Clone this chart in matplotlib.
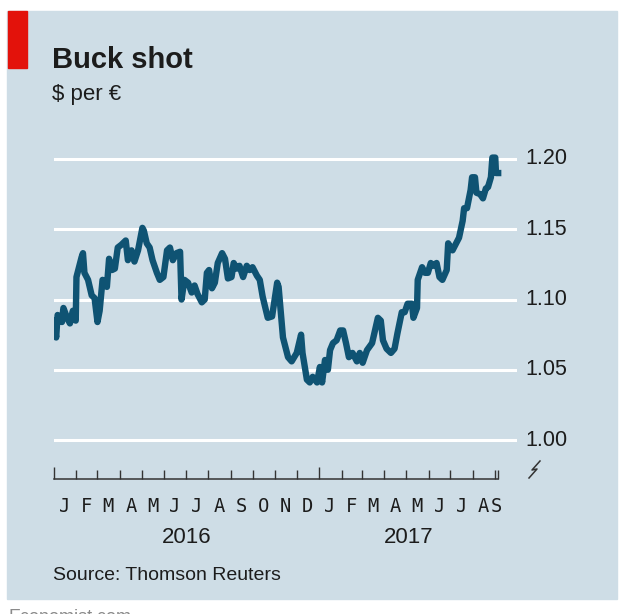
import numpy as np
import matplotlib
matplotlib.use("Agg")
import matplotlib.pyplot as plt
import matplotlib.dates as mdates
from matplotlib.transforms import blended_transform_factory
from matplotlib.patches import Rectangle
from matplotlib.lines import Line2D

plt.rcParams['font.family'] = ['Liberation Sans', 'DejaVu Sans']

# --- data: dollars per euro ---
dates = [
    '2016-01-01', '2016-01-04', '2016-01-06', '2016-01-12', '2016-01-14', '2016-01-19',
    '2016-01-23', '2016-01-27', '2016-01-31', '2016-02-01', '2016-02-08', '2016-02-10',
    '2016-02-12', '2016-02-17', '2016-02-22', '2016-02-26', '2016-03-01', '2016-03-04',
    '2016-03-08', '2016-03-14', '2016-03-17', '2016-03-21', '2016-03-25', '2016-03-29',
    '2016-04-03', '2016-04-09', '2016-04-12', '2016-04-17', '2016-04-21', '2016-04-26',
    '2016-05-02', '2016-05-04', '2016-05-08', '2016-05-12', '2016-05-16', '2016-05-22',
    '2016-05-26', '2016-05-31', '2016-06-05', '2016-06-09', '2016-06-13', '2016-06-18',
    '2016-06-23', '2016-06-25', '2016-06-29', '2016-07-04', '2016-07-09', '2016-07-13',
    '2016-07-17', '2016-07-23', '2016-07-27', '2016-07-30', '2016-08-02', '2016-08-06',
    '2016-08-10', '2016-08-14', '2016-08-20', '2016-08-24', '2016-08-28', '2016-09-02',
    '2016-09-05', '2016-09-09', '2016-09-13', '2016-09-18', '2016-09-23', '2016-09-27',
    '2016-10-01', '2016-10-07', '2016-10-11', '2016-10-15', '2016-10-22', '2016-10-28',
    '2016-11-04', '2016-11-06', '2016-11-12', '2016-11-19', '2016-11-24', '2016-12-01',
    '2016-12-07', '2016-12-09', '2016-12-15', '2016-12-19', '2016-12-23', '2016-12-29',
    '2017-01-02', '2017-01-05', '2017-01-09', '2017-01-13', '2017-01-16', '2017-01-20',
    '2017-01-25', '2017-01-30', '2017-02-03', '2017-02-07', '2017-02-11', '2017-02-16',
    '2017-02-22', '2017-02-26', '2017-03-02', '2017-03-08', '2017-03-15', '2017-03-19',
    '2017-03-23', '2017-03-27', '2017-03-30', '2017-04-04', '2017-04-10', '2017-04-15',
    '2017-04-19', '2017-04-25', '2017-04-29', '2017-05-03', '2017-05-09', '2017-05-11',
    '2017-05-16', '2017-05-17', '2017-05-23', '2017-05-27', '2017-05-31', '2017-06-04',
    '2017-06-07', '2017-06-12', '2017-06-16', '2017-06-20', '2017-06-26', '2017-06-28',
    '2017-07-04', '2017-07-09', '2017-07-13', '2017-07-18', '2017-07-20', '2017-07-24',
    '2017-07-29', '2017-07-31', '2017-08-04', '2017-08-06', '2017-08-11', '2017-08-15',
    '2017-08-19', '2017-08-22', '2017-08-26', '2017-08-28', '2017-09-01', '2017-09-02',
    '2017-09-05',
]
usd_per_eur = [
    1.085, 1.073, 1.089, 1.084, 1.094, 1.087,
    1.083, 1.092, 1.085, 1.116, 1.130, 1.133,
    1.119, 1.114, 1.103, 1.101, 1.084, 1.092,
    1.114, 1.109, 1.129, 1.121, 1.122, 1.137,
    1.139, 1.142, 1.128, 1.135, 1.127, 1.135,
    1.151, 1.149, 1.140, 1.137, 1.128, 1.119,
    1.114, 1.116, 1.135, 1.137, 1.128, 1.133,
    1.134, 1.100, 1.114, 1.112, 1.105, 1.110,
    1.104, 1.098, 1.100, 1.119, 1.121, 1.108,
    1.112, 1.126, 1.133, 1.129, 1.115, 1.116,
    1.126, 1.122, 1.124, 1.116, 1.124, 1.121,
    1.123, 1.117, 1.114, 1.102, 1.087, 1.088,
    1.112, 1.109, 1.073, 1.059, 1.056, 1.062,
    1.075, 1.062, 1.043, 1.041, 1.045, 1.041,
    1.052, 1.041, 1.057, 1.050, 1.064, 1.069,
    1.071, 1.078, 1.078, 1.069, 1.059, 1.062,
    1.056, 1.062, 1.055, 1.064, 1.069, 1.078,
    1.087, 1.085, 1.071, 1.065, 1.062, 1.065,
    1.076, 1.091, 1.091, 1.097, 1.097, 1.087,
    1.094, 1.114, 1.123, 1.119, 1.119, 1.126,
    1.124, 1.126, 1.116, 1.114, 1.121, 1.140,
    1.135, 1.140, 1.144, 1.156, 1.165, 1.165,
    1.178, 1.187, 1.187, 1.176, 1.175, 1.172,
    1.179, 1.180, 1.187, 1.201, 1.201, 1.190,
    1.190,
]
y_ticks = [1.00, 1.05, 1.10, 1.15, 1.20]
month_letters = list('JFMAMJJASOND') + list('JFMAMJJAS')
years = ['2016', '2017']

dates = np.array(dates, dtype='datetime64[D]')
usd_per_eur = np.array(usd_per_eur)

W, H = 632, 614
def fx(px):
    return px / W
def fy(py):
    return 1 - py / H

bg = '#cedde6'
line_col = '#0f5373'
ink = '#1c1c1c'

fig = plt.figure(figsize=(W / 100, H / 100), dpi=100)
fig.patch.set_facecolor('white')

# panel + red tag
fig.patches.append(Rectangle((fx(7), fy(599)), fx(617) - fx(7), fy(11) - fy(599),
                             transform=fig.transFigure, color=bg, zorder=-2))
fig.patches.append(Rectangle((fx(8), fy(68)), fx(27) - fx(8), fy(11) - fy(68),
                             transform=fig.transFigure, color='#e3120b', zorder=-1))

ax = fig.add_axes([fx(54), fy(479), fx(517) - fx(54), fy(150) - fy(479)])
ax.set_facecolor('none')
ax.set_zorder(5)

x0 = np.datetime64('2016-01-01')
x_end = np.datetime64('2017-10-01')
ax.set_xlim(x0, x_end)
ax.set_ylim(0.9723, 1.2064)

for v in y_ticks:
    ax.axhline(v, color='white', lw=2.2, zorder=1)

ax.plot(dates, usd_per_eur, color=line_col, lw=4.6, zorder=3, solid_joinstyle='round')

for s in ['top', 'left', 'right']:
    ax.spines[s].set_visible(False)
ax.spines['bottom'].set_color('#333333')
ax.spines['bottom'].set_linewidth(1.1)
ax.spines['bottom'].set_bounds(mdates.date2num(x0), mdates.date2num(dates[-1]))

month_starts = np.arange(np.datetime64('2016-01'), np.datetime64('2017-10'),
                         dtype='datetime64[M]').astype('datetime64[D]')
major = [d for d in month_starts if str(d)[5:7] != '01'] + [dates[-1]]
year_starts = [d for d in month_starts if str(d)[5:7] == '01']
ax.set_xticks([mdates.date2num(d) for d in major])
ax.set_xticks([mdates.date2num(d) for d in year_starts], minor=True)
ax.tick_params(axis='x', which='major', direction='in', length=6.5, width=1,
               color='#333333', labelbottom=False)
ax.tick_params(axis='x', which='minor', direction='in', length=8.6, width=1,
               color='#333333', labelbottom=False)
ax.set_yticks([])

tr_x = blended_transform_factory(ax.transData, fig.transFigure)
tr_y = blended_transform_factory(fig.transFigure, ax.transData)

# month letters under the ticks
for i, letter in enumerate(month_letters):
    a = month_starts[i]
    b = month_starts[i + 1] if i + 1 < len(month_starts) else dates[-1]
    b = min(b, dates[-1] + np.timedelta64(1, 'D'))
    mid = a + (b - a) / 2
    ax.text(mdates.date2num(mid), fy(512), letter, transform=tr_x, ha='center',
            va='baseline', fontsize=13.5, family=['DejaVu Sans Mono'], color=ink)

# years
spans = [(year_starts[0], year_starts[1]), (year_starts[1], dates[-1])]
for yr, (a, b) in zip(years, spans):
    mid = a + (b - a) / 2
    ax.text(mdates.date2num(mid), fy(543), yr, transform=tr_x, ha='center',
            va='baseline', fontsize=16, color=ink)

# right-hand value labels
for v in y_ticks:
    ax.text(fx(525), v, f'{v:.2f}', transform=tr_y, ha='left', va='center',
            fontsize=15.5, color=ink)

# axis break mark
bx = [529, 537, 532, 540]
by = [478, 469, 470, 461]
fig.lines.append(Line2D([fx(p) for p in bx], [fy(p) for p in by],
                        transform=fig.transFigure, color='#333333', lw=1.1))

fig.text(fx(52), fy(68), 'Buck shot', fontsize=21, fontweight='bold', color=ink,
         va='baseline', ha='left')
fig.text(fx(52), fy(100), '$ per €', fontsize=16, color=ink, va='baseline', ha='left')
fig.text(fx(53), fy(580), 'Source: Thomson Reuters', fontsize=14, color=ink,
         va='baseline', ha='left')
fig.text(fx(8), fy(609), 'Economist.com', fontsize=13, color='#8a8a8a',
         va='top', ha='left')

fig.savefig('out.png', dpi=100, facecolor='white')
